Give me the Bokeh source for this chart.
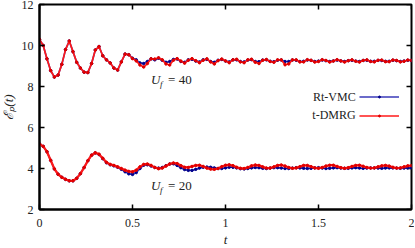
import numpy as np
from bokeh.plotting import figure
from bokeh.models import Label, Legend, LegendItem, FixedTicker
from bokeh.core.properties import value
from bokeh.embed import file_html
from bokeh.resources import INLINE

# time grid (step 0.02)
t = [round(0.02 * i, 2) for i in range(101)]

vmc_40 = [10.30, 10.00, 9.35, 8.78, 8.46, 8.56, 9.08, 9.80, 10.22, 9.70,
          9.18, 8.90, 8.70, 8.68, 9.12, 9.78, 9.95, 9.50, 9.30, 9.15,
          8.90, 8.80, 9.20, 9.58, 9.55, 9.38, 9.30, 9.15, 9.12, 9.22,
          9.35, 9.30, 9.38, 9.28, 9.18, 9.22, 9.32, 9.34, 9.22, 9.18,
          9.30, 9.33, 9.24, 9.20, 9.30, 9.32, 9.22, 9.18, 9.28, 9.32,
          9.24, 9.20, 9.30, 9.30, 9.22, 9.20, 9.29, 9.31, 9.22, 9.21,
          9.29, 9.30, 9.23, 9.21, 9.28, 9.29, 9.22, 9.22, 9.29, 9.28,
          9.22, 9.23, 9.29, 9.27, 9.22, 9.24, 9.29, 9.26, 9.22, 9.25,
          9.29, 9.25, 9.22, 9.26, 9.28, 9.24, 9.22, 9.27, 9.28, 9.23,
          9.23, 9.27, 9.27, 9.23, 9.23, 9.28, 9.26, 9.22, 9.24, 9.28,
          9.26]

dmrg_40 = [10.30, 10.00, 9.35, 8.78, 8.46, 8.56, 9.08, 9.80, 10.22, 9.70,
           9.18, 8.90, 8.70, 8.68, 9.12, 9.78, 9.95, 9.50, 9.30, 9.15,
           8.90, 8.80, 9.20, 9.58, 9.55, 9.36, 9.25, 9.05, 8.95, 9.12,
           9.35, 9.34, 9.40, 9.30, 9.10, 9.05, 9.28, 9.36, 9.24, 9.14,
           9.28, 9.36, 9.26, 9.16, 9.28, 9.35, 9.20, 9.10, 9.26, 9.34,
           9.25, 9.16, 9.30, 9.33, 9.20, 9.16, 9.30, 9.33, 9.18, 9.12,
           9.28, 9.32, 9.22, 9.18, 9.30, 9.30, 9.06, 9.10, 9.30, 9.30,
           9.20, 9.20, 9.31, 9.28, 9.19, 9.22, 9.31, 9.27, 9.19, 9.24,
           9.31, 9.25, 9.19, 9.26, 9.30, 9.23, 9.19, 9.27, 9.30, 9.22,
           9.20, 9.28, 9.29, 9.21, 9.21, 9.29, 9.27, 9.20, 9.23, 9.29,
           9.27]

vmc_20 = [5.20, 5.08, 4.82, 4.40, 3.98, 3.72, 3.57, 3.47, 3.40, 3.40,
          3.52, 3.75, 4.05, 4.38, 4.65, 4.76, 4.68, 4.48, 4.28, 4.18,
          4.13, 4.06, 3.96, 3.84, 3.74, 3.71, 3.80, 4.00, 4.16, 4.18,
          4.12, 4.05, 4.02, 4.05, 4.14, 4.22, 4.23, 4.15, 4.04, 3.95,
          3.91, 3.91, 3.96, 4.02, 4.06, 4.07, 4.06, 4.03, 4.00, 4.00,
          4.03, 4.06, 4.06, 4.03, 3.99, 3.98, 4.00, 4.03, 4.05, 4.04,
          4.01, 4.00, 4.02, 4.04, 4.04, 4.02, 4.00, 4.00, 4.02, 4.04,
          4.03, 4.01, 4.00, 4.01, 4.03, 4.04, 4.02, 4.00, 4.01, 4.03,
          4.04, 4.02, 4.01, 4.01, 4.03, 4.04, 4.02, 4.01, 4.02, 4.03,
          4.03, 4.02, 4.01, 4.02, 4.03, 4.03, 4.02, 4.01, 4.02, 4.03,
          4.03]

dmrg_20 = [5.20, 5.08, 4.82, 4.40, 3.98, 3.72, 3.57, 3.47, 3.40, 3.40,
           3.52, 3.75, 4.05, 4.38, 4.65, 4.77, 4.70, 4.50, 4.30, 4.20,
           4.15, 4.08, 4.00, 3.92, 3.86, 3.84, 3.92, 4.08, 4.20, 4.22,
           4.15, 4.05, 3.99, 4.02, 4.12, 4.22, 4.27, 4.24, 4.14, 4.06,
           4.05, 4.10, 4.15, 4.16, 4.10, 4.02, 3.97, 3.96, 4.00, 4.09,
           4.16, 4.18, 4.14, 4.06, 4.01, 4.00, 4.05, 4.13, 4.17, 4.15,
           4.08, 4.02, 4.02, 4.08, 4.15, 4.17, 4.12, 4.05, 4.01, 4.03,
           4.09, 4.15, 4.15, 4.09, 4.03, 4.01, 4.05, 4.12, 4.16, 4.16,
           4.10, 4.04, 4.01, 4.04, 4.10, 4.15, 4.16, 4.11, 4.05, 4.02,
           4.03, 4.08, 4.13, 4.15, 4.12, 4.06, 4.02, 4.03, 4.08, 4.13,
           4.14]

x_ticks = [0, 0.5, 1, 1.5, 2]
y_ticks = [2, 4, 6, 8, 10, 12]
x_tick_labels = {0: "0", 0.5: "0.5", 1: "1", 1.5: "1.5", 2: "2"}

BLUE_LINE = "#3a3ab8"
BLUE_MARK = "#00008b"
RED_LINE = "#ff1a1a"
RED_MARK = "#e00000"
FONT = "Liberation Serif"
TXT = "#222222"

X0, X1, Y0, Y1 = 0, 2, 2, 12
FW, FH = 372, 205

p = figure(frame_width=FW, frame_height=FH, output_backend="svg", toolbar_location=None,
           x_range=(X0, X1), y_range=(Y0, Y1),
           min_border_left=40, min_border_right=3, min_border_top=6, min_border_bottom=37)
p.styles = {"margin-left": "-3px", "margin-top": "-2px"}
p.grid.visible = False
p.outline_line_color = "black"
p.outline_line_width = 2
p.background_fill_color = "white"
p.border_fill_color = "white"

def style_axis(ax):
    ax.axis_line_color = "black"
    ax.axis_line_width = 2
    ax.major_tick_in = 5
    ax.major_tick_out = 0
    ax.minor_tick_line_color = None
    ax.major_tick_line_color = "black"
    ax.major_tick_line_width = 1.5
    ax.major_label_text_font = FONT
    ax.major_label_text_font_size = "12px"
    ax.major_label_text_color = TXT
    ax.axis_label_text_font = FONT
    ax.axis_label_text_font_style = "italic"
    ax.axis_label_text_font_size = "13px"
    ax.axis_label_text_color = TXT

xa = p.xaxis[0]
ya = p.yaxis[0]
xa.ticker = FixedTicker(ticks=x_ticks)
ya.ticker = FixedTicker(ticks=y_ticks)
xa.major_label_overrides = x_tick_labels
style_axis(xa)
style_axis(ya)
xa.axis_label = "t"
xa.major_label_standoff = 9
xa.axis_label_standoff = 2
ya.axis_label = "ℰₚ(t)"
ya.major_label_standoff = 6
ya.axis_label_standoff = 3

# mirrored inward ticks on top and right frame edges (5 px long)
tick_dy = 5 * (Y1 - Y0) / FH
tick_dx = 5 * (X1 - X0) / FW
p.segment(x0=x_ticks, y0=[Y1] * len(x_ticks), x1=x_ticks, y1=[Y1 - tick_dy] * len(x_ticks),
          line_color="black", line_width=1.5)
p.segment(x0=[X1] * len(y_ticks), y0=y_ticks, x1=[X1 - tick_dx] * len(y_ticks), y1=y_ticks,
          line_color="black", line_width=1.5)

l1 = p.line(t, vmc_40, line_color=BLUE_LINE, line_width=1.7)
s1 = p.scatter(t, vmc_40, size=2.5, color=BLUE_MARK)
l2 = p.line(t, vmc_20, line_color=BLUE_LINE, line_width=1.7)
s2 = p.scatter(t, vmc_20, size=2.5, color=BLUE_MARK)
l3 = p.line(t, dmrg_40, line_color=RED_LINE, line_width=1.7)
s3 = p.scatter(t, dmrg_40, size=2.5, color=RED_MARK)
l4 = p.line(t, dmrg_20, line_color=RED_LINE, line_width=2.3)
s4 = p.scatter(t, dmrg_20, size=2.5, color=RED_MARK)

legend = Legend(items=[LegendItem(label=value(""), renderers=[l1, s1]),
                       LegendItem(label=value(""), renderers=[l3, s3])],
                location=(320, 86), glyph_width=40, glyph_height=5,
                label_width=0, label_height=15, label_standoff=0,
                spacing=4, padding=0, margin=0,
                border_line_color=None, background_fill_alpha=0)
p.add_layout(legend)

for txt, yv in [("Rt-VMC", 7.51), ("t-DMRG", 6.59)]:
    p.add_layout(Label(x=1.70, y=yv, text=txt, text_font=FONT, text_font_size="12px",
                       text_color=TXT, text_align="right", text_baseline="middle"))

for num, yv in [("40", 8.34), ("20", 3.17)]:
    p.add_layout(Label(x=0.60, y=yv, text="U", text_font=FONT, text_font_style="italic",
                       text_font_size="13px", text_color=TXT, text_baseline="middle"))
    p.add_layout(Label(x=0.60, y=yv, x_offset=9, y_offset=-4, text="f", text_font=FONT,
                       text_font_style="italic", text_font_size="9px", text_color=TXT,
                       text_baseline="middle"))
    p.add_layout(Label(x=0.60, y=yv, x_offset=17, text="= " + num, text_font=FONT,
                       text_font_size="13px", text_color=TXT, text_baseline="middle"))

open("out.html", "w").write(file_html(p, INLINE))
